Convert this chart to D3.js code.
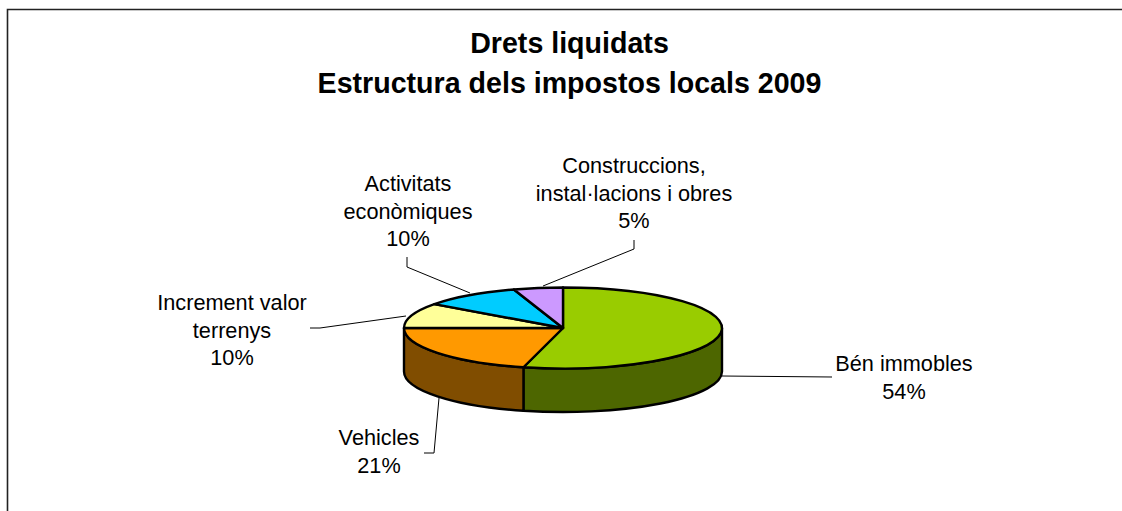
<!DOCTYPE html>
<html><head><meta charset="utf-8">
<script src="https://cdn.jsdelivr.net/npm/d3@7"></script>
<style>html,body{margin:0;padding:0;background:#fff}svg{display:block}text{font-family:"Liberation Sans",Arial,sans-serif;fill:#000}</style>
</head><body><script>
const categories=[["Bén immobles"],["Vehicles"],["Increment valor","terrenys"],["Activitats","econòmiques"],["Construccions,","instal·lacions i obres"]];
const values=[54,21,10,10,5];
const topColors=["#99CC00","#FF9900","#FFFF99","#00CCFF","#CC99FF"];
const sideColors=["#4D6600","#804D00","#808050","#006680","#664D80"];
const titleLines=["Drets liquidats","Estructura dels impostos locals 2009"];
const labelCenters=[[904,371],[379,445],[232,310],[408,191],[634,173]];
const leaders=[
 [[722,376],[832,377]],
 [[439,398],[434,453],[424,453]],
 [[406,316],[320,328],[310,328]],
 [[470,293],[407,267],[407,257]],
 [[543,286],[634,249],[634,240]]];

const W=1122,H=511,cx=563,cy=328,rx=159,ry=40.5,depth=43.5;
const svg=d3.select("body").append("svg").attr("width",W).attr("height",H);
svg.append("path").attr("d",`M7.5,${H}V9.5H${W}`).attr("fill","none").attr("stroke","#222").attr("stroke-width",1.6);

svg.append("g").selectAll("text").data(titleLines).join("text")
 .attr("x",569.5).attr("y",(d,i)=>53+i*40).attr("text-anchor","middle")
 .attr("font-size",28.6).attr("font-weight","bold").text(d=>d);

const line=d3.line();
svg.append("g").selectAll("path").data(leaders).join("path")
 .attr("d",d=>line(d)).attr("fill","none").attr("stroke","#000").attr("stroke-width",1);

const pie=d3.pie().sort(null).value(d=>d)(values);
const px=d3.scaleLinear().domain([-1,1]).range([cx-rx,cx+rx]);
const py=d3.scaleLinear().domain([-1,1]).range([cy-ry,cy+ry]);
const X=a=>px(Math.sin(a)),Y=a=>py(-Math.cos(a));
const sideG=svg.append("g");
pie.forEach((s,i)=>{
  const a0=Math.max(s.startAngle,Math.PI/2),a1=Math.min(s.endAngle,Math.PI*1.5);
  if(a1<=a0)return;
  sideG.append("path")
   .attr("d",`M${X(a0)},${Y(a0)}A${rx},${ry} 0 0 1 ${X(a1)},${Y(a1)}L${X(a1)},${Y(a1)+depth}A${rx},${ry} 0 0 0 ${X(a0)},${Y(a0)+depth}Z`)
   .attr("fill",sideColors[i]).attr("stroke","#000").attr("stroke-width",2.4).attr("stroke-linejoin","round");
});
const topG=svg.append("g");
pie.forEach((s,i)=>{
  const large=(s.endAngle-s.startAngle)>Math.PI?1:0;
  topG.append("path")
   .attr("d",`M${cx},${cy}L${X(s.startAngle)},${Y(s.startAngle)}A${rx},${ry} 0 ${large} 1 ${X(s.endAngle)},${Y(s.endAngle)}Z`)
   .attr("fill",topColors[i]).attr("stroke","#000").attr("stroke-width",2.4).attr("stroke-linejoin","round");
});

const lh=27.7;
const lg=svg.append("g");
categories.forEach((lines,i)=>{
  const all=lines.concat([values[i]+"%"]);
  const [x,y]=labelCenters[i];
  all.forEach((t,j)=>lg.append("text").attr("x",x).attr("y",y+j*lh).attr("text-anchor","middle").attr("font-size",21.7).text(t));
});
</script></body></html>
